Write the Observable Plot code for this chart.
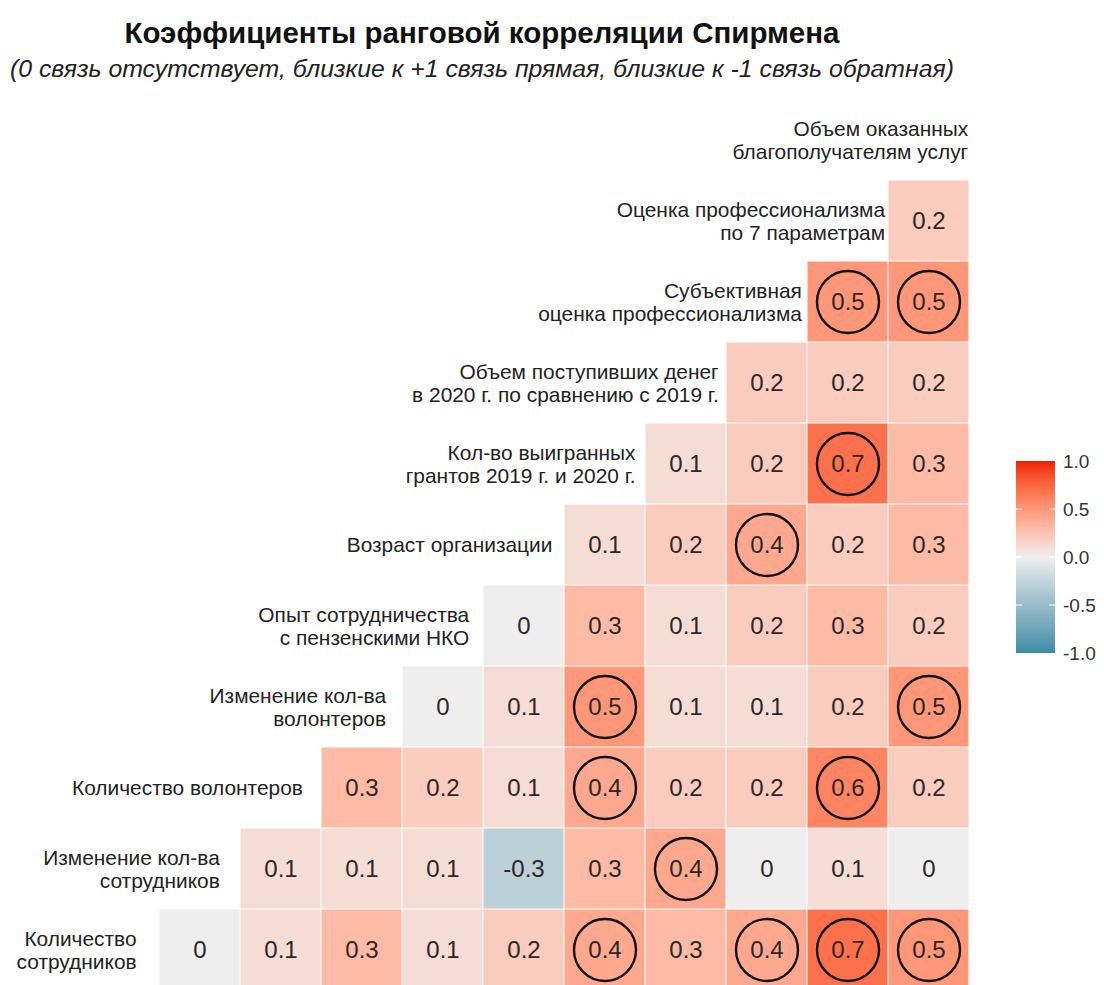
<!DOCTYPE html>
<html>
<head>
<meta charset="utf-8">
<script src="https://cdn.jsdelivr.net/npm/d3@7"></script>
<script src="https://cdn.jsdelivr.net/npm/@observablehq/plot@0.6"></script>
<style>
  html, body { margin: 0; padding: 0; background: #fff; overflow: hidden; }
  body { width: 1104px; height: 985px; position: relative; font-family: "Liberation Sans", Arial, sans-serif; }
  #title { position: absolute; left: 0; width: 964px; top: 18px; line-height: 1; text-align: center; font-weight: bold; font-size: 29.5px; color: #111; white-space: nowrap; }
  #subtitle { position: absolute; left: 0; width: 964px; top: 57px; line-height: 1; text-align: center; font-style: italic; font-size: 24.8px; color: #222; white-space: nowrap; }
  #chart { position: absolute; left: 0; top: 90px; }
  #legend { position: absolute; left: 1000px; top: 440px; }
</style>
</head>
<body>
<div id="title">Коэффициенты ранговой корреляции Спирмена</div>
<div id="subtitle">(0 связь отсутствует, близкие к +1 связь прямая, близкие к -1 связь обратная)</div>
<div id="chart"></div>
<div id="legend"></div>
<script>
// Variables, from bottom row (1) to top row (11)
const variables = [
  "Количество\nсотрудников",
  "Изменение кол-ва\nсотрудников",
  "Количество волонтеров",
  "Изменение кол-ва\nволонтеров",
  "Опыт сотрудничества\nс пензенскими НКО",
  "Возраст организации",
  "Кол-во выигранных\nгрантов 2019 г. и 2020 г.",
  "Объем поступивших денег\nв 2020 г. по сравнению с 2019 г.",
  "Субъективная\nоценка профессионализма",
  "Оценка профессионализма\nпо 7 параметрам",
  "Объем оказанных\nблагополучателям услуг"
];

// Spearman coefficients: row r (variable r) against variables r+1 ... 11
const row1 = [0, 0.1, 0.3, 0.1, 0.2, 0.4, 0.3, 0.4, 0.7, 0.5];
const row2 = [0.1, 0.1, 0.1, -0.3, 0.3, 0.4, 0, 0.1, 0];
const row3 = [0.3, 0.2, 0.1, 0.4, 0.2, 0.2, 0.6, 0.2];
const row4 = [0, 0.1, 0.5, 0.1, 0.1, 0.2, 0.5];
const row5 = [0, 0.3, 0.1, 0.2, 0.3, 0.2];
const row6 = [0.1, 0.2, 0.4, 0.2, 0.3];
const row7 = [0.1, 0.2, 0.7, 0.3];
const row8 = [0.2, 0.2, 0.2];
const row9 = [0.5, 0.5];
const row10 = [0.2];
const rowsValues = [row1, row2, row3, row4, row5, row6, row7, row8, row9, row10];

// Significant coefficients (circled)
const significantThreshold = 0.4;

// Legend ticks
const legendTicks = [1.0, 0.5, 0.0, -0.5, -1.0];
const paletteLow = "#3A8CA6", paletteMid = "#EEEEEE", paletteHigh = "#F21A00";

const cells = [];
rowsValues.forEach((vals, i) => {
  const row = i + 1;
  vals.forEach((v, k) => {
    cells.push({row, col: row + k, value: v});
  });
});
const labels = variables.map((name, i) => ({row: i + 1, col: i, name}));

const font = "'Liberation Sans', Arial, sans-serif";

const plot = Plot.plot({
  width: 1104,
  height: 901,
  marginTop: 0, marginBottom: 0, marginLeft: 0, marginRight: 0,
  x: {type: "band", domain: d3.range(0, 11), range: [76.5, 970], padding: 0, axis: null},
  y: {type: "band", domain: d3.range(11, 0, -1), range: [7, 901], padding: 0, axis: null},
  color: {type: "linear", domain: [-1, 0, 1], range: [paletteLow, paletteMid, paletteHigh], interpolate: "lab"},
  style: {fontFamily: font, background: "white", overflow: "visible"},
  marks: [
    Plot.cell(cells, {x: "col", y: "row", fill: "value", inset: 0.5}),
    Plot.text(cells, {x: "col", y: "row", text: d => String(d.value), fontSize: 24, fill: "#2e2626"}),
    Plot.dot(cells.filter(d => Math.abs(d.value) >= significantThreshold), {x: "col", y: "row", r: 31, stroke: "#111", strokeWidth: 2.4}),
    // one label per diagonal position; offset grows slightly along the diagonal as in the original
    ...labels.map(l => Plot.text([l], {x: "col", y: "row", text: "name", textAnchor: "end", dx: 17.6 + 2.16 * l.col, fontSize: 20.9, lineHeight: 1.08, fill: "#222"}))
  ]
});
document.getElementById("chart").appendChild(plot);

// Vertical colour bar legend built from the plot's colour scale
const colorScale = plot.scale("color");
const barTop = 21, barBottom = 213, barLeft = 16, barWidth = 39;
const ly = d3.scaleLinear().domain([1, -1]).range([barTop, barBottom]);
const svg = d3.select("#legend").append("svg").attr("width", 104).attr("height", 240)
  .style("font-family", font);
const grad = svg.append("defs").append("linearGradient").attr("id", "g").attr("x1", 0).attr("y1", 0).attr("x2", 0).attr("y2", 1);
const stops = d3.range(0, 41).map(i => 1 - i / 20);
stops.forEach((v, i) => {
  grad.append("stop").attr("offset", i / (stops.length - 1)).attr("stop-color", colorScale.apply(v));
});
svg.append("rect").attr("x", barLeft).attr("y", barTop).attr("width", barWidth).attr("height", barBottom - barTop).attr("fill", "url(#g)");
legendTicks.forEach(t => {
  if (Math.abs(t) !== 1) {
    svg.append("line").attr("x1", barLeft).attr("x2", barLeft + 6).attr("y1", ly(t)).attr("y2", ly(t)).attr("stroke", "white").attr("stroke-width", 1);
    svg.append("line").attr("x1", barLeft + barWidth - 6).attr("x2", barLeft + barWidth).attr("y1", ly(t)).attr("y2", ly(t)).attr("stroke", "white").attr("stroke-width", 1);
  }
  svg.append("text").attr("x", 63).attr("y", ly(t)).attr("dy", "0.35em").attr("font-size", 19).attr("fill", "#333").text(t.toFixed(1));
});
</script>
</body>
</html>
